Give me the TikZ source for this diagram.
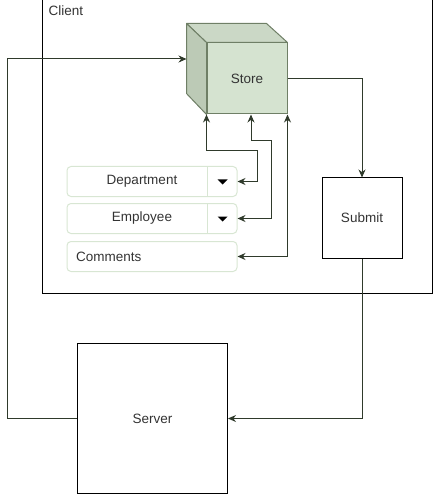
\documentclass[tikz,border=0pt]{standalone}
\usepackage{fontspec}
\setmainfont{Liberation Sans}
\usetikzlibrary{arrows.meta, positioning}
\definecolor{storegreen}{HTML}{D5E3D0}
\definecolor{storetop}{HTML}{CBD8C6}
\definecolor{storeside}{HTML}{BCCAB6}
\definecolor{storeedge}{HTML}{6F7F66}
\definecolor{linecol}{HTML}{2F3A2B}
\definecolor{boxedge}{HTML}{D8E6D3}
\definecolor{textcol}{HTML}{333333}
\begin{document}
\begin{tikzpicture}[
        x=1pt, y=-1pt, >={Stealth[length=8pt,width=7pt]},
        every node/.style={font=\fontsize{13.5}{16}\selectfont, text=textcol},
        frame/.style={draw=black, line width=1pt, minimum width=#1, minimum height=#1, inner sep=0pt},
        dropbox/.style={draw=boxedge, line width=1pt, rounded corners=4pt, minimum width=170pt, minimum height=30pt},
        link/.style={draw=linecol, line width=1pt}
        ]
        \useasboundingbox (0,0) rectangle (434,494);

        \node[draw=black, line width=1pt, minimum width=390pt, minimum height=293pt] (client) at (237,146.5) {};
        \node[anchor=west]                  (clienttext) at (45,11)   {Client};

        \node[draw=storeedge, fill=storegreen, line width=1pt, minimum width=80pt, minimum height=71pt] (store) at (247,78.5) {Store};
        \filldraw[storeedge, fill=storetop, line width=1pt, line join=round] (store.north west) -- ++(-20,-19) -- ++(80,0) -- (store.north east) -- cycle;
        \filldraw[storeedge, fill=storeside, line width=1pt, line join=round] (store.north west) -- ++(-20,-19) -- ++(0,70) -- (store.south west) -- cycle;
        \coordinate (storeback) at ([shift={(-20pt,19.5pt)}]store.west);

        \node[frame=80pt]                   (submit) at (362,218)     {Submit};
        \node[frame=150pt]                  (server) at (152.5,418.5) {Server};

        \node[dropbox]                      (department) at (152,181.5) {};
        \node                               (departmenttext) at ([xshift=-10pt]department.center) {Department};
        \node[dropbox]                      (employee)   [below=6pt of department] {};
        \node                               (employeetext) at ([xshift=-10pt]employee.center) {Employee};
        \node[dropbox]                      (comments)   [below=7pt of employee] {};
        \node[anchor=west]                  (commentstext) at ([xshift=6pt]comments.west) {Comments};

        \foreach \dropname in {department, employee} {
          \draw[boxedge, line width=1pt] ([xshift=-30pt]\dropname.north east) -- ([xshift=-30pt]\dropname.south east);
          \fill[black] ([shift={(-20,-2)}]\dropname.east) -- ++(10,0) -- ++(-5,5) -- cycle;
        }

        \path[link,<->] (department.east) -- ++(20,0) |- ([yshift=-36pt]store.south west) -- (store.south west);
        \path[link,<->] (employee.east) -- ++(34,0) |- ([shift={(4pt,-26pt)}]store.south) -- ([xshift=4pt]store.south);
        \path[link,<->] (comments.east) -| (store.south east);
        \path[link,->] (store.east) -| (submit.north);
        \path[link,->] (submit.south) |- (server.east);
        \path[link,->] (server.west) -- ++(-70,0) |- (storeback);
      \end{tikzpicture}
\end{document}
